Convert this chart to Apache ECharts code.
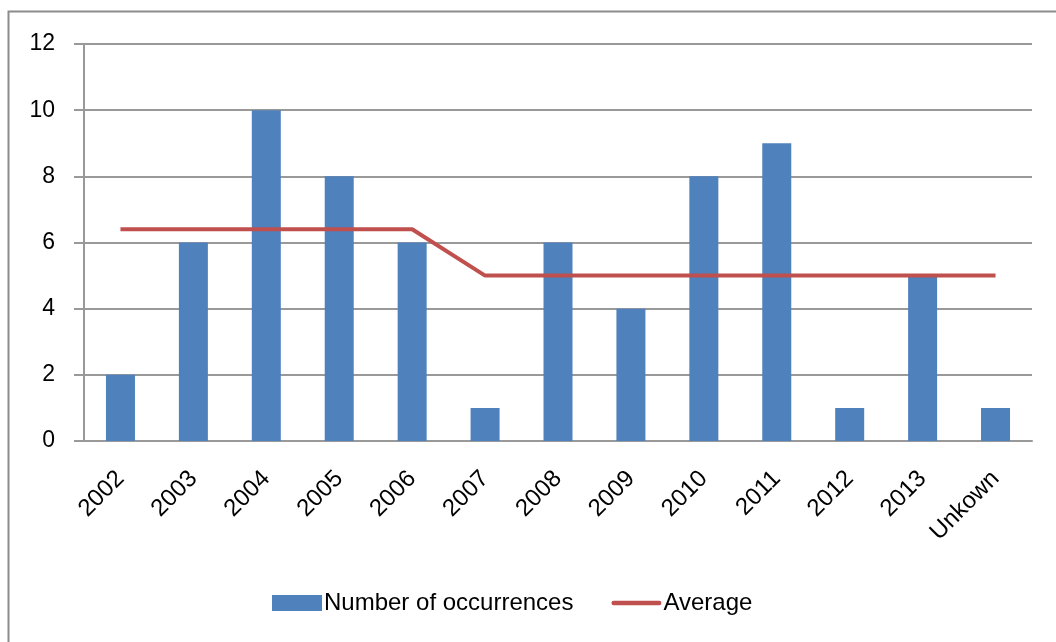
<!DOCTYPE html>
<html>
<head>
<meta charset="utf-8">
<script src="https://cdn.jsdelivr.net/npm/echarts@6/dist/echarts.min.js"></script>
<style>html,body{margin:0;padding:0;background:#fff}#c{width:1056px;height:642px}</style>
</head>
<body>
<div id="c"></div>
<script>
const categories = ['2002','2003','2004','2005','2006','2007','2008','2009','2010','2011','2012','2013','Unkown'];
const occurrences = [2,6,10,8,6,1,6,4,8,9,1,5,1];
const average = [6.4,6.4,6.4,6.4,6.4,5,5,5,5,5,5,5,5];
const yTicks = {min:0, max:12, interval:2};

const chart = echarts.init(document.getElementById('c'));
const font = 'Liberation Sans, Arial, sans-serif';
chart.setOption({
  animation:false,
  graphic:[{type:'rect', shape:{x:8.5,y:11.5,width:1100,height:700}, style:{fill:'none',stroke:'#8c8c8c',lineWidth:2}}],
  grid:{left:84,right:24,top:44,bottom:201},
  legend:{
    left:267, top:586, itemWidth:50, itemHeight:16, itemGap:38,
    textStyle:{fontFamily:font,fontSize:24,color:'#000',padding:[0,0,0,-3]},
    data:[
      {name:'Number of occurrences',icon:'rect'},
      {name:'Average',icon:'path://M2,0 L52,0 A2.5,2.5 0 0 1 52,5 L2,5 A2.5,2.5 0 0 1 2,0 Z'}
    ]
  },
  xAxis:{
    type:'category', data:categories,
    axisLine:{lineStyle:{color:'#999',width:2}},
    axisTick:{length:10,lineStyle:{color:'#999',width:2}},
    axisLabel:{rotate:45,fontFamily:font,fontSize:24,color:'#000',margin:34,interval:0}
  },
  yAxis:{
    type:'value', min:yTicks.min, max:yTicks.max, interval:yTicks.interval,
    axisLine:{show:true,lineStyle:{color:'#999',width:2}},
    axisTick:{show:true,length:10,lineStyle:{color:'#999',width:2}},
    splitLine:{lineStyle:{color:'#999',width:2}},
    axisLabel:{fontFamily:font,fontSize:23,color:'#000',margin:29}
  },
  series:[
    {name:'Number of occurrences',type:'bar',data:occurrences,barWidth:29,
     itemStyle:{color:'#4F81BD'}},
    {name:'Average',type:'line',data:average,symbol:'none',
     lineStyle:{color:'#C0504D',width:4},itemStyle:{color:'#C0504D'}}
  ]
});
</script>
</body>
</html>
